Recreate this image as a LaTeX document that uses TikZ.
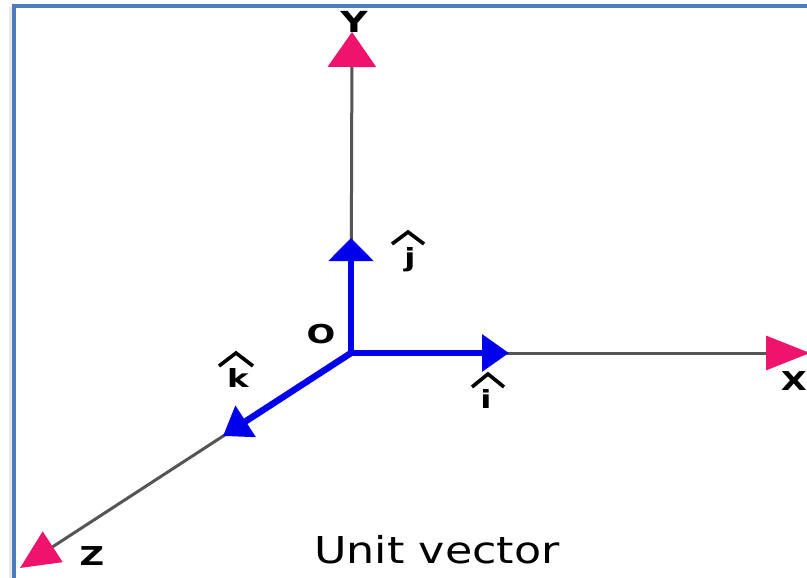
\documentclass[tikz,border=0pt]{standalone}
\usepackage{fontspec}
\setmainfont{DejaVu Sans}
\usetikzlibrary{arrows.meta}
\definecolor{pinktip}{RGB}{238,20,110}
\definecolor{vecblue}{RGB}{0,0,235}
\definecolor{axisgray}{RGB}{85,85,85}
\definecolor{framebl}{RGB}{74,126,187}
\newcommand\hstr[1]{\scalebox{1.3}[1]{#1}}
\tikzset{
  axisline/.style={draw=axisgray, line width=3pt},
  unitvec/.style={draw=vecblue, line width=6.5pt,
    -{Triangle[length=27pt, width=36pt, fill=vecblue, color=vecblue]}},
  axlabel/.style={font=\bfseries\fontsize{26}{26}\selectfont, inner sep=0pt},
  hatlabel/.style={font=\bfseries\fontsize{25}{25}\selectfont, inner sep=0pt},
  hatmark/.style={draw=black, line width=3.6pt, line join=miter},
}
\begin{document}
\begin{tikzpicture}[x=1pt,y=-1pt]
\useasboundingbox (0,0) rectangle (807,578);
\fill[white] (0,0) rectangle (807,578);
% frame with shadow
\fill[black!8] (9,7) rectangle (12.5,578);
\draw[framebl, line width=3.5pt] (14,578) -- (14,6) -- (807,6);

\coordinate (O) at (351,353);
\coordinate (Ytip) at (352,32);
\coordinate (Xtip) at (810,353);
\coordinate (Ztip) at (20,568);
\coordinate (itip) at (509,353);
\coordinate (jtip) at (351,238);
\coordinate (ktip) at (223,436);

% axes
\draw[axisline, -{Triangle[length=35pt, width=48pt, fill=pinktip, color=pinktip]}] (O) -- (Ytip);
\draw[axisline, -{Triangle[length=44pt, width=34pt, fill=pinktip, color=pinktip]}] (O) -- (Xtip);
\draw[axisline, -{Triangle[length=39pt, width=36pt, fill=pinktip, color=pinktip]}] (O) -- (Ztip);

% unit vectors
\draw[unitvec] (O) -- (itip);
\draw[draw=vecblue, line width=6.5pt,
  -{Triangle[length=23pt, width=44pt, fill=vecblue, color=vecblue]}] (O) -- (jtip);
\draw[unitvec] (O) -- (ktip);
\fill[vecblue] (O) circle (3.25pt);

% axis labels
\node[axlabel, font=\bfseries\fontsize{29}{29}\selectfont] (Ylab) at (354,22) {\hstr{Y}};
\node[axlabel] (Xlab) at (794,381) {\hstr{X}};
\node[axlabel] (Zlab) at (92,556) {\hstr{Z}};
\node[axlabel] (Olab) at (321,334) {\hstr{O}};

% unit vector labels
\node[hatlabel] (jlab) at (410,260) {\hstr{j}};
\draw[hatmark] (392,244) -- (408,232) -- (424,244);
\node[hatlabel] (ilab) at (486,399) {\hstr{i}};
\draw[hatmark] (472,387) -- (488,374) -- (504,387);
\node[hatlabel] (klab) at (238,378) {\hstr{k}};
\draw[hatmark] (219,366) -- (236,353) -- (253,366);

% caption
\node[inner sep=0pt, anchor=base] (cap) at (437,563)
  {\scalebox{1.2}[1]{\fontsize{37}{37}\selectfont Unit vector}};
\end{tikzpicture}
\end{document}
